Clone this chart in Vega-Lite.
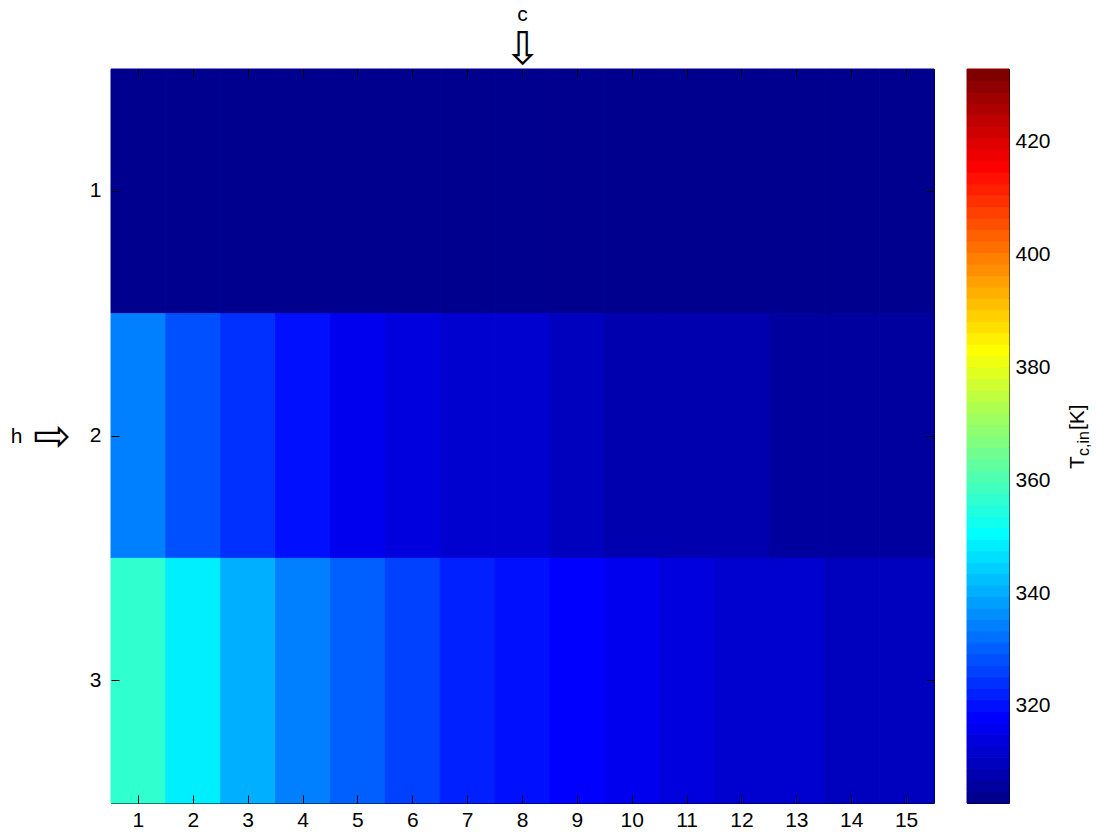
{
  "$schema": "https://vega.github.io/schema/vega-lite/v6.json",
  "padding": {"left": 10, "top": 3, "right": 5, "bottom": 5},
  "background": "white",
  "title": {"text": "h", "orient": "left", "angle": 0, "anchor": "middle", "align": "right", "baseline": "middle", "fontSize": 21, "fontWeight": "normal", "font": "Liberation Sans", "color": "black", "offset": -2, "dy": 20},
  "config": {
    "font": "Liberation Sans",
    "view": {"stroke": "black", "strokeWidth": 1},
    "axis": {"labelFont": "Liberation Sans", "labelFontSize": 21, "labelColor": "black", "tickColor": "black", "tickSize": -8, "tickWidth": 1, "domain": false, "grid": false, "titleFontWeight": "normal", "titleColor": "black"}
  },
  "resolve": {"scale": {"color": "shared"}},
  "datasets": {
    "cells": [
      {"c": 1, "h": 1, "T": 304.3}, {"c": 2, "h": 1, "T": 304.2}, {"c": 3, "h": 1, "T": 304.1}, {"c": 4, "h": 1, "T": 304.0}, {"c": 5, "h": 1, "T": 303.9},
      {"c": 6, "h": 1, "T": 303.8}, {"c": 7, "h": 1, "T": 303.7}, {"c": 8, "h": 1, "T": 303.6}, {"c": 9, "h": 1, "T": 303.6}, {"c": 10, "h": 1, "T": 303.5},
      {"c": 11, "h": 1, "T": 303.5}, {"c": 12, "h": 1, "T": 303.4}, {"c": 13, "h": 1, "T": 303.4}, {"c": 14, "h": 1, "T": 303.3}, {"c": 15, "h": 1, "T": 303.3},
      {"c": 1, "h": 2, "T": 334.3}, {"c": 2, "h": 2, "T": 328.2}, {"c": 3, "h": 2, "T": 324.1}, {"c": 4, "h": 2, "T": 320.1}, {"c": 5, "h": 2, "T": 316.0},
      {"c": 6, "h": 2, "T": 314.0}, {"c": 7, "h": 2, "T": 312.4}, {"c": 8, "h": 2, "T": 311.6}, {"c": 9, "h": 2, "T": 309.9}, {"c": 10, "h": 2, "T": 308.5},
      {"c": 11, "h": 2, "T": 307.9}, {"c": 12, "h": 2, "T": 307.3}, {"c": 13, "h": 2, "T": 306.1}, {"c": 14, "h": 2, "T": 305.7}, {"c": 15, "h": 2, "T": 305.3},
      {"c": 1, "h": 3, "T": 356.7}, {"c": 2, "h": 3, "T": 348.5}, {"c": 3, "h": 3, "T": 340.4}, {"c": 4, "h": 3, "T": 334.3}, {"c": 5, "h": 3, "T": 330.2},
      {"c": 6, "h": 3, "T": 326.2}, {"c": 7, "h": 3, "T": 322.1}, {"c": 8, "h": 3, "T": 320.1}, {"c": 9, "h": 3, "T": 318.0}, {"c": 10, "h": 3, "T": 316.0},
      {"c": 11, "h": 3, "T": 314.0}, {"c": 12, "h": 3, "T": 312.5}, {"c": 13, "h": 3, "T": 311.5}, {"c": 14, "h": 3, "T": 310.2}, {"c": 15, "h": 3, "T": 309.5}
    ],
    "bands": [
      {"T": 302.8, "T2": 304.83}, {"T": 304.83, "T2": 306.87}, {"T": 306.87, "T2": 308.9}, {"T": 308.9, "T2": 310.93},
      {"T": 310.93, "T2": 312.96}, {"T": 312.96, "T2": 315.0}, {"T": 315.0, "T2": 317.03}, {"T": 317.03, "T2": 319.06},
      {"T": 319.06, "T2": 321.1}, {"T": 321.1, "T2": 323.13}, {"T": 323.13, "T2": 325.16}, {"T": 325.16, "T2": 327.19},
      {"T": 327.19, "T2": 329.23}, {"T": 329.23, "T2": 331.26}, {"T": 331.26, "T2": 333.29}, {"T": 333.29, "T2": 335.33},
      {"T": 335.33, "T2": 337.36}, {"T": 337.36, "T2": 339.39}, {"T": 339.39, "T2": 341.42}, {"T": 341.42, "T2": 343.46},
      {"T": 343.46, "T2": 345.49}, {"T": 345.49, "T2": 347.52}, {"T": 347.52, "T2": 349.55}, {"T": 349.55, "T2": 351.59},
      {"T": 351.59, "T2": 353.62}, {"T": 353.62, "T2": 355.65}, {"T": 355.65, "T2": 357.69}, {"T": 357.69, "T2": 359.72},
      {"T": 359.72, "T2": 361.75}, {"T": 361.75, "T2": 363.78}, {"T": 363.78, "T2": 365.82}, {"T": 365.82, "T2": 367.85},
      {"T": 367.85, "T2": 369.88}, {"T": 369.88, "T2": 371.92}, {"T": 371.92, "T2": 373.95}, {"T": 373.95, "T2": 375.98},
      {"T": 375.98, "T2": 378.01}, {"T": 378.01, "T2": 380.05}, {"T": 380.05, "T2": 382.08}, {"T": 382.08, "T2": 384.11},
      {"T": 384.11, "T2": 386.15}, {"T": 386.15, "T2": 388.18}, {"T": 388.18, "T2": 390.21}, {"T": 390.21, "T2": 392.24},
      {"T": 392.24, "T2": 394.28}, {"T": 394.28, "T2": 396.31}, {"T": 396.31, "T2": 398.34}, {"T": 398.34, "T2": 400.38},
      {"T": 400.38, "T2": 402.41}, {"T": 402.41, "T2": 404.44}, {"T": 404.44, "T2": 406.47}, {"T": 406.47, "T2": 408.51},
      {"T": 408.51, "T2": 410.54}, {"T": 410.54, "T2": 412.57}, {"T": 412.57, "T2": 414.6}, {"T": 414.6, "T2": 416.64},
      {"T": 416.64, "T2": 418.67}, {"T": 418.67, "T2": 420.7}, {"T": 420.7, "T2": 422.74}, {"T": 422.74, "T2": 424.77},
      {"T": 424.77, "T2": 426.8}, {"T": 426.8, "T2": 428.83}, {"T": 428.83, "T2": 430.87}, {"T": 430.87, "T2": 432.9}
    ]
  },
  "spacing": 31,
  "hconcat": [
    {
      "width": 823,
      "height": 734,
      "title": {"text": "c", "subtitle": "⇩", "anchor": "middle", "fontSize": 21, "fontWeight": "normal", "font": "Liberation Sans", "color": "black", "subtitleFont": "DejaVu Sans", "subtitleFontSize": 45, "subtitleColor": "black", "subtitlePadding": 3, "offset": -4},
      "data": {"name": "cells"},
      "resolve": {"axis": {"x": "independent", "y": "independent"}},
      "layer": [
        {
          "mark": {"type": "rect", "stroke": {"expr": "scale('color', datum.T)"}, "strokeWidth": 1},
          "encoding": {
            "x": {"field": "c", "type": "ordinal", "scale": {"paddingInner": 0, "paddingOuter": 0}, "axis": {"orient": "bottom", "title": null, "labelAngle": 0, "labelPadding": 14}},
            "y": {"field": "h", "type": "ordinal", "scale": {"paddingInner": 0, "paddingOuter": 0}, "axis": {"orient": "left", "title": "⇨", "titleFont": "DejaVu Sans", "titleFontSize": 45, "titleAngle": 0, "titleBaseline": "middle", "titleAlign": "right", "titlePadding": 19, "labelPadding": 18}},
            "color": {
              "field": "T", "type": "quantitative", "legend": null,
              "scale": {
                "type": "threshold",
                "domain": [304.83, 306.87, 308.9, 310.93, 312.96, 315.0, 317.03, 319.06, 321.1, 323.13, 325.16, 327.19, 329.23, 331.26, 333.29, 335.33, 337.36, 339.39, 341.42, 343.46, 345.49, 347.52, 349.55, 351.59, 353.62, 355.65, 357.69, 359.72, 361.75, 363.78, 365.82, 367.85, 369.88, 371.92, 373.95, 375.98, 378.01, 380.05, 382.08, 384.11, 386.15, 388.18, 390.21, 392.24, 394.28, 396.31, 398.34, 400.38, 402.41, 404.44, 406.47, 408.51, 410.54, 412.57, 414.6, 416.64, 418.67, 420.7, 422.74, 424.77, 426.8, 428.83, 430.87],
                "range": ["#00008F", "#00009F", "#0000AF", "#0000BF", "#0000CF", "#0000DF", "#0000EF", "#0000FF", "#0010FF", "#0020FF", "#0030FF", "#0040FF", "#0050FF", "#0060FF", "#0070FF", "#0080FF", "#008FFF", "#009FFF", "#00AFFF", "#00BFFF", "#00CFFF", "#00DFFF", "#00EFFF", "#00FFFF", "#10FFEF", "#20FFDF", "#30FFCF", "#40FFBF", "#50FFAF", "#60FF9F", "#70FF8F", "#80FF80", "#8FFF70", "#9FFF60", "#AFFF50", "#BFFF40", "#CFFF30", "#DFFF20", "#EFFF10", "#FFFF00", "#FFEF00", "#FFDF00", "#FFCF00", "#FFBF00", "#FFAF00", "#FF9F00", "#FF8F00", "#FF8000", "#FF7000", "#FF6000", "#FF5000", "#FF4000", "#FF3000", "#FF2000", "#FF1000", "#FF0000", "#EF0000", "#DF0000", "#CF0000", "#BF0000", "#AF0000", "#9F0000", "#8F0000", "#800000"]
              }
            }
          }
        },
        {
          "mark": {"type": "rect", "fillOpacity": 0},
          "encoding": {
            "x": {"field": "c", "type": "ordinal", "axis": {"orient": "top", "title": null, "labels": false}},
            "y": {"field": "h", "type": "ordinal", "axis": {"orient": "right", "title": null, "labels": false}}
          }
        }
      ]
    },
    {
      "width": 42,
      "height": 734,
      "resolve": {"axis": {"y": "independent"}},
      "layer": [
        {
          "data": {"name": "bands"},
          "mark": {"type": "rect", "stroke": {"expr": "scale('color', datum.T)"}, "strokeWidth": 1},
          "encoding": {
            "y": {"field": "T", "type": "quantitative", "scale": {"domain": [302.8, 432.9], "nice": false, "zero": false}, "axis": {"orient": "right", "title": null, "values": [320, 340, 360, 380, 400, 420], "labelPadding": 14}},
            "y2": {"field": "T2"},
            "color": {
              "field": "T", "type": "quantitative", "legend": null,
              "scale": {
                "type": "threshold",
                "domain": [304.83, 306.87, 308.9, 310.93, 312.96, 315.0, 317.03, 319.06, 321.1, 323.13, 325.16, 327.19, 329.23, 331.26, 333.29, 335.33, 337.36, 339.39, 341.42, 343.46, 345.49, 347.52, 349.55, 351.59, 353.62, 355.65, 357.69, 359.72, 361.75, 363.78, 365.82, 367.85, 369.88, 371.92, 373.95, 375.98, 378.01, 380.05, 382.08, 384.11, 386.15, 388.18, 390.21, 392.24, 394.28, 396.31, 398.34, 400.38, 402.41, 404.44, 406.47, 408.51, 410.54, 412.57, 414.6, 416.64, 418.67, 420.7, 422.74, 424.77, 426.8, 428.83, 430.87],
                "range": ["#00008F", "#00009F", "#0000AF", "#0000BF", "#0000CF", "#0000DF", "#0000EF", "#0000FF", "#0010FF", "#0020FF", "#0030FF", "#0040FF", "#0050FF", "#0060FF", "#0070FF", "#0080FF", "#008FFF", "#009FFF", "#00AFFF", "#00BFFF", "#00CFFF", "#00DFFF", "#00EFFF", "#00FFFF", "#10FFEF", "#20FFDF", "#30FFCF", "#40FFBF", "#50FFAF", "#60FF9F", "#70FF8F", "#80FF80", "#8FFF70", "#9FFF60", "#AFFF50", "#BFFF40", "#CFFF30", "#DFFF20", "#EFFF10", "#FFFF00", "#FFEF00", "#FFDF00", "#FFCF00", "#FFBF00", "#FFAF00", "#FF9F00", "#FF8F00", "#FF8000", "#FF7000", "#FF6000", "#FF5000", "#FF4000", "#FF3000", "#FF2000", "#FF1000", "#FF0000", "#EF0000", "#DF0000", "#CF0000", "#BF0000", "#AF0000", "#9F0000", "#8F0000", "#800000"]
              }
            }
          }
        },
        {
          "data": {"values": [{}]},
          "mark": {"type": "text", "text": "T", "angle": 270, "align": "left", "baseline": "alphabetic", "fontSize": 21, "font": "Liberation Sans", "color": "black", "clip": false},
          "encoding": {
            "x": {"datum": 2.78, "type": "quantitative", "scale": {"domain": [0, 1], "nice": false, "zero": false}, "axis": null},
            "y": {"datum": 362, "type": "quantitative", "axis": {"orient": "left", "title": null, "labels": false, "values": [320, 340, 360, 380, 400, 420]}}
          }
        },
        {
          "data": {"values": [{}]},
          "mark": {"type": "text", "text": "c,in", "angle": 270, "align": "left", "baseline": "alphabetic", "fontSize": 16, "font": "Liberation Sans", "color": "black", "dx": 13, "dy": 5, "clip": false},
          "encoding": {
            "x": {"datum": 2.78, "type": "quantitative", "axis": null},
            "y": {"datum": 362, "type": "quantitative", "axis": null}
          }
        },
        {
          "data": {"values": [{}]},
          "mark": {"type": "text", "text": "[K]", "angle": 270, "align": "left", "baseline": "alphabetic", "fontSize": 21, "font": "Liberation Sans", "color": "black", "dx": 39, "clip": false},
          "encoding": {
            "x": {"datum": 2.78, "type": "quantitative", "axis": null},
            "y": {"datum": 362, "type": "quantitative", "axis": null}
          }
        }
      ]
    }
  ]
}
